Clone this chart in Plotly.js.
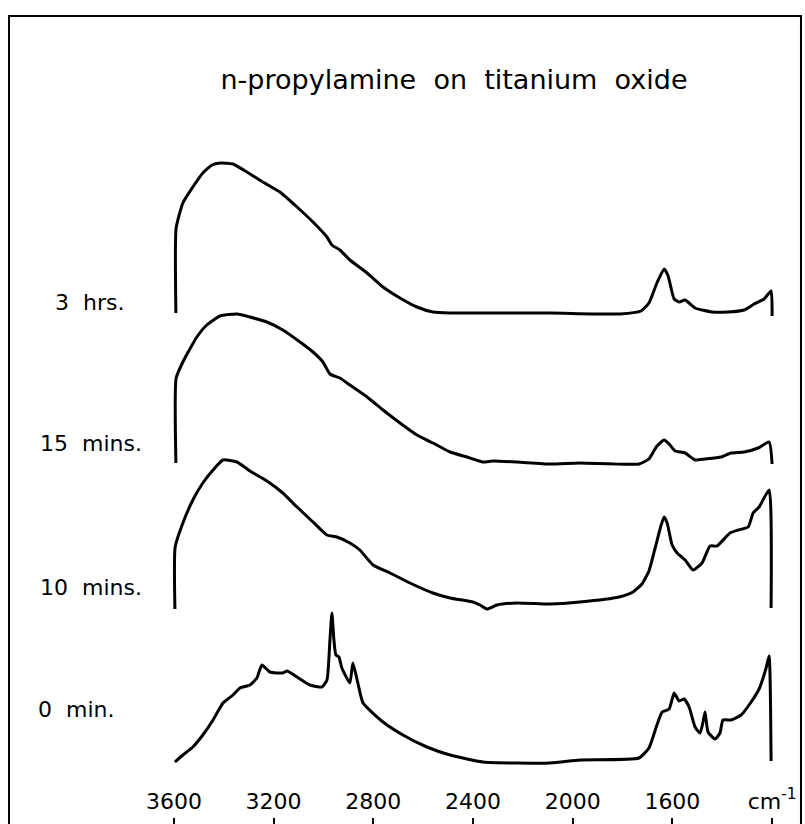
<!DOCTYPE html>
<html>
<head>
<meta charset="utf-8">
<script src="https://cdn.plot.ly/plotly-3.0.1.min.js"></script>
<style>html,body{margin:0;padding:0;background:#fff}#chart{width:805px;height:824px}</style>
</head>
<body>
<div id="chart"></div>
<script>
// Wavenumbers (cm-1) and stacked absorbance-like values (arbitrary units, offset per spectrum)
const wn3h = [3592,3591,3564,3524,3484,3447,3415,3363,3307,3243,3175,3106,3042,2986,2966,2934,2894,2825,2761,2693,2625,2561,2492,2360,2091,1810,1726,1694,1662,1633,1617,1593,1573,1549,1509,1441,1377,1312,1272,1232,1204,1200];
const y3h  = [5.00,5.85,6.10,6.26,6.40,6.48,6.50,6.49,6.41,6.31,6.21,6.06,5.91,5.76,5.68,5.63,5.53,5.40,5.26,5.15,5.06,5.01,5.00,5.00,5.00,4.99,5.02,5.10,5.30,5.44,5.37,5.14,5.11,5.13,5.05,5.01,5.01,5.03,5.09,5.14,5.22,4.97];

const wn15 = [3592,3591,3564,3508,3468,3415,3347,3295,3227,3163,3094,3042,3002,2974,2934,2894,2825,2761,2693,2625,2561,2492,2424,2360,2320,2223,2091,1971,1734,1694,1662,1633,1613,1589,1549,1509,1469,1405,1365,1312,1256,1212,1200];
const y15  = [3.50,4.35,4.51,4.76,4.88,4.97,4.99,4.96,4.91,4.83,4.71,4.61,4.51,4.39,4.35,4.28,4.16,4.03,3.90,3.78,3.70,3.61,3.56,3.51,3.52,3.51,3.49,3.50,3.49,3.54,3.67,3.73,3.69,3.62,3.60,3.53,3.54,3.56,3.60,3.61,3.65,3.71,3.49];

const wn10 = [3596,3595,3564,3524,3484,3443,3403,3347,3295,3227,3163,3106,3042,2986,2946,2894,2854,2801,2733,2653,2561,2492,2400,2372,2344,2304,2223,2091,1971,1814,1758,1722,1694,1666,1645,1633,1621,1601,1581,1549,1517,1481,1449,1421,1369,1336,1296,1276,1252,1212,1204];
const y10  = [2.04,2.66,2.90,3.13,3.30,3.43,3.53,3.51,3.42,3.32,3.20,3.06,2.91,2.78,2.76,2.70,2.63,2.48,2.40,2.30,2.20,2.15,2.11,2.08,2.04,2.08,2.10,2.09,2.11,2.16,2.21,2.29,2.42,2.68,2.88,2.96,2.90,2.68,2.60,2.53,2.43,2.50,2.67,2.67,2.80,2.83,2.86,3.00,3.06,3.23,2.05];

const wn0 = [3596,3564,3524,3484,3443,3403,3363,3335,3295,3267,3247,3215,3163,3146,3106,3054,3006,2986,2974,2966,2958,2950,2938,2926,2894,2882,2862,2841,2761,2681,2585,2492,2360,2091,1971,1734,1694,1662,1641,1613,1593,1573,1553,1533,1509,1489,1477,1469,1457,1429,1409,1397,1365,1324,1284,1252,1224,1212,1204];
const y0  = [0.51,0.58,0.66,0.78,0.93,1.10,1.18,1.25,1.28,1.35,1.48,1.41,1.40,1.42,1.36,1.28,1.26,1.33,1.73,2.00,1.73,1.58,1.56,1.45,1.30,1.50,1.30,1.10,0.91,0.78,0.66,0.58,0.51,0.50,0.53,0.55,0.65,0.88,1.01,1.04,1.20,1.12,1.14,1.06,0.86,0.80,0.91,1.01,0.81,0.74,0.80,0.93,0.93,0.98,1.11,1.24,1.45,1.57,0.52];

const tickVals = [3600,3200,2800,2400,2000,1600,1200];
const tickText = ["3600","3200","2800","2400","2000","1600","cm<sup>-1</sup>"];

const seriesLabels = ["3\u00a0\u00a0hrs.","15\u00a0\u00a0mins.","10\u00a0\u00a0mins.","0\u00a0\u00a0min."];
const labelY = [5.11,3.70,2.26,1.04];
const labelX = [-0.1394,-0.1623,-0.1623,-0.1654];

const FONT = "DejaVu Sans, sans-serif";
const line = {color:'#000', width:3, shape:'spline', smoothing:0.5};
const traces = [
  {x:wn3h, y:y3h},
  {x:wn15, y:y15},
  {x:wn10, y:y10},
  {x:wn0,  y:y0}
].map((t,i)=>Object.assign(t,{type:'scatter',mode:'lines',line:line,name:seriesLabels[i],hoverinfo:'skip'}));

const annotations = seriesLabels.map((s,i)=>({
  text:s, xref:'paper', yref:'y', x:labelX[i], y:labelY[i],
  xanchor:'left', yanchor:'middle', showarrow:false,
  font:{family:FONT,size:22,color:'#000'}
}));

const layout = {
  width:805, height:824,
  margin:{l:144, r:8, t:0, b:7},
  paper_bgcolor:'#fff', plot_bgcolor:'#fff',
  showlegend:false,
  title:{
    text:'n-propylamine\u00a0\u00a0on\u00a0\u00a0titanium\u00a0\u00a0oxide',
    xref:'container', yref:'container', x:0.564, y:0.903,
    xanchor:'center', yanchor:'middle',
    font:{family:FONT,size:27,color:'#000'}
  },
  xaxis:{
    range:[3720,1100], showgrid:false, zeroline:false, showline:false,
    tickmode:'array', tickvals:tickVals, ticktext:tickText,
    ticks:'outside', ticklen:12, tickwidth:2, tickcolor:'#000',
    ticklabelposition:'inside', ticklabelstandoff:1,
    tickfont:{family:FONT,size:22,color:'#000'}
  },
  yaxis:{range:[-0.04,8.13], visible:false, fixedrange:true},
  annotations:annotations,
  shapes:[{
    type:'rect', xref:'paper', yref:'paper',
    x0:-0.2067, x1:1.0061, y0:-0.05, y1:0.9803,
    line:{color:'#000', width:2}, layer:'below'
  }]
};

Plotly.newPlot('chart', traces, layout, {staticPlot:true, displayModeBar:false});
</script>
</body>
</html>
